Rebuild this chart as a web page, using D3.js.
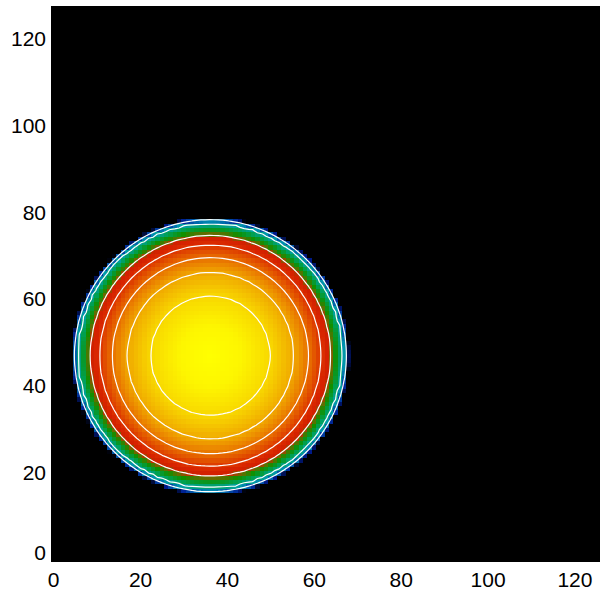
<!DOCTYPE html>
<html>
<head>
<meta charset="utf-8">
<script src="https://cdn.jsdelivr.net/npm/d3@7"></script>
<style>
  html, body { margin: 0; padding: 0; background: #fff; }
  svg { display: block; }
  text { font-family: "Liberation Sans", Arial, Helvetica, sans-serif; }
</style>
</head>
<body>
<svg id="chart" width="600" height="595"></svg>
<script>
// ---------------- data ----------------
const gridSize = 128;                 // 128 x 128 cells, indices 0..127
const blobCenter = [36.2, 47];        // centre of the round blob (cell units)
const profileRadius = [0, 7, 13.8, 19.2, 22.6, 25.5, 27.6, 30.6, 31.3, 32.0, 200];
const profileValue  = [1.0, 0.97, 0.875, 0.75, 0.625, 0.5, 0.375, 0.25, 0.125, 0.0, 0.0];
// contour levels (white lines)
const contourLevels = [0.125, 0.25, 0.375, 0.5, 0.625, 0.75, 0.875];
// colour table stops
const colorStops  = [0, 0.06, 0.125, 0.19, 0.25, 0.29, 0.33, 0.36, 0.39, 0.45, 0.5, 0.625, 0.75, 0.875, 1.0];
const colorValues = ["#000000", "#001c90", "#0050a8", "#0090b0", "#00a0a0", "#00a050", "#109000",
                     "#6a6a00", "#d02000", "#d82400", "#dc3400", "#e87000", "#f0a800", "#f8d800", "#ffff00"];
// tick labels
const xTicks = [0, 20, 40, 60, 80, 100, 120];
const yTicks = [0, 20, 40, 60, 80, 100, 120];

// ---------------- build grid ----------------
const profile = d3.scaleLinear().domain(profileRadius).range(profileValue).clamp(true);
const grid = new Array(gridSize * gridSize);
for (let j = 0; j < gridSize; j++) {
  for (let i = 0; i < gridSize; i++) {
    const r = Math.hypot(i - blobCenter[0], j - blobCenter[1]);
    grid[j * gridSize + i] = profile(r);
  }
}

// ---------------- scales ----------------
const svg = d3.select("#chart");
const x = d3.scaleLinear().domain([-0.5, gridSize - 0.5]).range([51, 607]);
const y = d3.scaleLinear().domain([-0.5, gridSize - 0.5]).range([562, 6]);
const color = d3.scaleLinear().domain(colorStops).range(colorValues).clamp(true);

const plot = svg.append("g");
plot.append("clipPath").attr("id", "clip")
  .append("rect").attr("x", 51).attr("y", 6).attr("width", 556).attr("height", 556);

const cells = plot.append("g").attr("clip-path", "url(#clip)").attr("shape-rendering", "crispEdges");
const cellData = d3.range(gridSize * gridSize).map(k => ({ i: k % gridSize, j: Math.floor(k / gridSize), v: grid[k] }));
cells.selectAll("rect").data(cellData).join("rect")
  .attr("x", d => x(d.i - 0.5))
  .attr("y", d => y(d.j + 0.5))
  .attr("width", d => x(d.i + 0.5) - x(d.i - 0.5) + 0.5)
  .attr("height", d => y(d.j - 0.5) - y(d.j + 0.5) + 0.5)
  .attr("fill", d => color(d.v));

// ---------------- contours ----------------
const contours = d3.contours().size([gridSize, gridSize]).thresholds(contourLevels)(grid);
const proj = d3.geoTransform({
  point: function(px, py) { this.stream.point(x(px - 0.5), y(py - 0.5)); }
});
const path = d3.geoPath(proj);
plot.append("g").attr("clip-path", "url(#clip)")
  .selectAll("path").data(contours).join("path")
  .attr("d", path)
  .attr("fill", "none")
  .attr("stroke", "#ffffff")
  .attr("stroke-width", 1.2);

// ---------------- axes ----------------
const xAxis = svg.append("g").attr("transform", "translate(0,562)")
  .call(d3.axisBottom(x).tickValues(xTicks).tickSize(0).tickPadding(10));
const yAxis = svg.append("g").attr("transform", "translate(51,0)")
  .call(d3.axisLeft(y).tickValues(yTicks).tickSize(0).tickPadding(5));
[xAxis, yAxis].forEach(a => {
  a.select(".domain").remove();
  a.selectAll("text").attr("font-size", 21).attr("fill", "#000")
    .attr("font-family", "'Liberation Sans', Arial, Helvetica, sans-serif");
});
yAxis.selectAll(".tick").filter(d => d === 0).select("text").attr("dy", "0.0em");
</script>
</body>
</html>
